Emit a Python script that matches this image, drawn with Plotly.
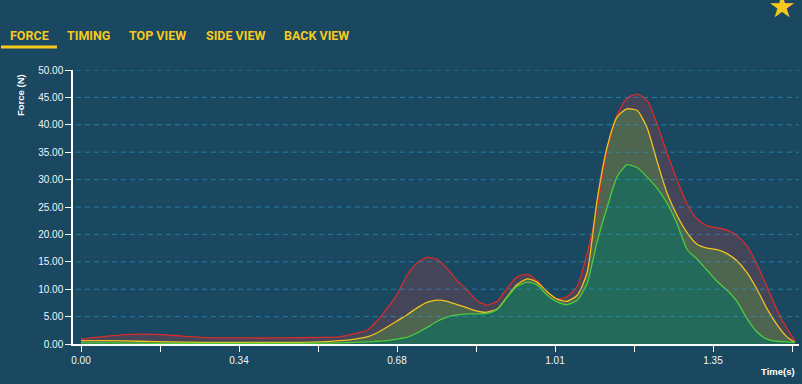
import plotly.graph_objects as go

# ---------------- data ----------------
time_s = [0.000, 0.062, 0.126, 0.190, 0.254, 0.340, 0.425, 0.511, 0.553, 0.585,
          0.611, 0.632, 0.654, 0.675, 0.696, 0.718, 0.739, 0.760, 0.782, 0.803,
          0.825, 0.846, 0.867, 0.889, 0.910, 0.931, 0.953, 0.974, 0.995, 1.017,
          1.038, 1.060, 1.081, 1.102, 1.124, 1.145, 1.166, 1.188, 1.209, 1.230,
          1.252, 1.273, 1.295, 1.316, 1.337, 1.359, 1.380, 1.401, 1.423, 1.444,
          1.465, 1.487, 1.508, 1.525]

force_red = [0.9, 1.5, 1.8, 1.6, 1.2, 1.1, 1.1, 1.2, 1.3, 1.9,
             2.5, 4.2, 6.5, 9.0, 12.5, 14.8, 15.8, 15.5, 13.8, 11.6,
             9.8, 7.9, 7.1, 7.8, 10.2, 12.2, 12.7, 11.6, 9.5, 8.2,
             8.6, 10.5, 16.5, 24.5, 35.5, 41.8, 44.8, 45.6, 44.5, 40.3,
             34.8, 30.0, 25.5, 22.8, 21.6, 21.2, 20.8, 19.8, 17.8, 14.5,
             10.5, 6.2, 2.8, 0.6]

force_yellow = [0.6, 0.6, 0.5, 0.4, 0.3, 0.3, 0.3, 0.4, 0.6, 0.9,
                1.3, 2.0, 3.1, 4.2, 5.3, 6.6, 7.6, 8.0, 7.8, 7.2,
                6.6, 6.0, 5.8, 6.4, 8.6, 10.8, 11.9, 11.3, 9.6, 8.2,
                7.8, 8.9, 13.0, 26.0, 36.0, 41.4, 42.9, 42.6, 39.5, 33.5,
                27.5, 23.5, 20.3, 18.2, 17.5, 17.2, 16.5, 15.2, 13.0, 10.0,
                6.5, 3.5, 1.3, 0.3]

force_green = [0.2, 0.2, 0.15, 0.1, 0.1, 0.1, 0.1, 0.15, 0.2, 0.3,
               0.4, 0.5, 0.6, 0.9, 1.2, 2.0, 3.0, 4.1, 4.9, 5.3,
               5.5, 5.5, 5.6, 6.3, 8.5, 10.5, 11.3, 10.8, 9.0, 7.7,
               7.2, 8.0, 11.0, 18.5, 25.0, 30.5, 32.7, 32.2, 30.5, 28.5,
               25.7, 22.0, 17.2, 15.5, 13.5, 11.4, 9.8, 7.8, 4.6, 2.2,
               0.9, 0.5, 0.4, 0.3]

y_tick_vals = [0, 5, 10, 15, 20, 25, 30, 35, 40, 45, 50]
x_tick_step = 0.16875
x_tick_text = ["0.00", "", "0.34", "", "0.68", "", "1.01", "", "1.35", ""]
tab_labels = ["FORCE", "TIMING", "TOP VIEW", "SIDE VIEW", "BACK VIEW"]

# ---------------- style ----------------
BG = "#1a4860"
YELLOW_UI = "#f8c81c"
W, H = 802, 384
L, R, T, B = 73, 3, 70, 40
pw, ph = W - L - R, H - T - B


def px_x(px):
    return (px - L) / pw


def px_y(py):
    return (H - B - py) / ph


x_tick_vals = [k * x_tick_step for k in range(len(x_tick_text))]
x_lo = -(81 - L) / (79 / x_tick_step)
x_hi = x_lo + pw / (79 / x_tick_step)

fig = go.Figure()

spline = dict(shape="spline", smoothing=0.6)

# fills (bottom to top)
fig.add_trace(go.Scatter(x=time_s, y=force_green, mode="lines", fill="tozeroy",
                         fillcolor="#236a5b", line=dict(width=0, **spline),
                         hoverinfo="skip", showlegend=False))
fig.add_trace(go.Scatter(x=time_s, y=force_yellow, mode="lines", fill="tonexty",
                         fillcolor="#4e6550", line=dict(width=0, **spline),
                         hoverinfo="skip", showlegend=False))
fig.add_trace(go.Scatter(x=time_s, y=force_red, mode="lines", fill="tonexty",
                         fillcolor="#45455a", line=dict(width=0, **spline),
                         hoverinfo="skip", showlegend=False))

# lines
for ys, col in [(force_red, "#d62c2c"), (force_yellow, "#f2c21e"), (force_green, "#4ccc3c")]:
    fig.add_trace(go.Scatter(x=time_s, y=ys, mode="lines",
                             line=dict(color=col, width=1.3, **spline),
                             showlegend=False))

shapes = []
for v in y_tick_vals[1:]:
    shapes.append(dict(type="line", xref="paper", yref="y", x0=0.004, x1=1, y0=v, y1=v,
                       layer="above",
                       line=dict(color="rgba(44,150,196,0.65)", width=1, dash="5px,4px")))
# active tab underline
shapes.append(dict(type="line", xref="paper", yref="paper",
                   x0=px_x(1), x1=px_x(57), y0=px_y(47), y1=px_y(47),
                   line=dict(color=YELLOW_UI, width=3)))

annotations = []
tab_x = [8, 65, 127, 204, 282]
for lbl, tx in zip(tab_labels, tab_x):
    annotations.append(dict(text=lbl, xref="paper", yref="paper", x=px_x(tx), y=px_y(35.5),
                            xanchor="left", yanchor="middle", showarrow=False,
                            font=dict(family="Roboto", size=12.5, color=YELLOW_UI, weight="bold")))
annotations.append(dict(text="Force (N)", xref="paper", yref="paper", x=px_x(20), y=px_y(95),
                        xanchor="center", yanchor="middle", textangle=-90, showarrow=False,
                        font=dict(family="Liberation Sans", size=9.5, color="white", weight="bold")))
annotations.append(dict(text="Time(s)", xref="paper", yref="paper", x=px_x(797), y=px_y(371.5),
                        xanchor="right", yanchor="middle", showarrow=False,
                        font=dict(family="Liberation Sans", size=9.5, color="white", weight="bold")))
annotations.append(dict(text="★", xref="paper", yref="paper", x=px_x(782), y=px_y(6),
                        xanchor="center", yanchor="middle", showarrow=False,
                        font=dict(family="DejaVu Sans", size=31, color=YELLOW_UI)))

fig.update_layout(
    width=W, height=H,
    margin=dict(l=L, r=R, t=T, b=B, pad=0),
    paper_bgcolor=BG, plot_bgcolor=BG,
    showlegend=False,
    shapes=shapes,
    annotations=annotations,
    xaxis=dict(range=[x_lo, x_hi], tickvals=x_tick_vals, ticktext=x_tick_text,
               showgrid=False, zeroline=False, showline=True, linecolor="white", linewidth=1.5,
               ticks="outside", ticklen=6, tickcolor="white", tickwidth=1.2,
               tickfont=dict(family="Liberation Sans", size=10, color="#eef6ff")),
    yaxis=dict(range=[0, 50], tickvals=y_tick_vals, tickformat=".2f",
               showgrid=False, zeroline=False, showline=True, linecolor="white", linewidth=1.5,
               ticks="outside", ticklen=6, tickcolor="white", tickwidth=1.2,
               tickfont=dict(family="Liberation Sans", size=10, color="#eef6ff")),
)

fig.write_html("out.html", config={"displayModeBar": False},
               post_script="document.body.style.margin='0';document.body.style.overflow='hidden';"
                           "document.body.style.background='" + BG + "';")
